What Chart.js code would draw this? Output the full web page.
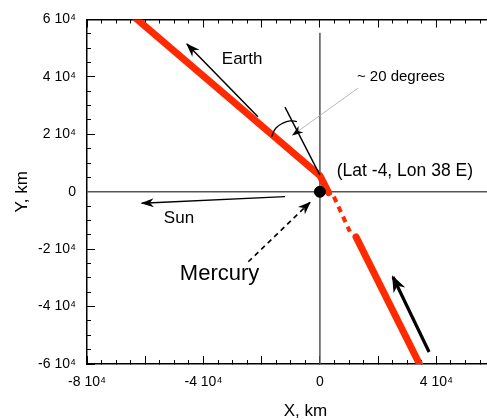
<!DOCTYPE html>
<html>
<head>
<meta charset="utf-8">
<script src="https://cdn.jsdelivr.net/npm/chart.js@4/dist/chart.umd.min.js"></script>
<style>
  html, body { margin: 0; padding: 0; background: #fff; overflow: hidden; }
  #wrap { width: 540px; height: 420px; }
</style>
</head>
<body>
<div id="wrap"><canvas id="c" width="540" height="420"></canvas></div>
<script>
// ---- axis tick data ----
const xLabelValues = [-80000, -40000, 0, 40000];
const xTickLabels = ['-8 10\u2074', '-4 10\u2074', '0', '4 10\u2074'];
const yLabelValues = [-60000, -40000, -20000, 0, 20000, 40000, 60000];
const yTickLabels = ['-6 10\u2074', '-4 10\u2074', '-2 10\u2074', '0', '2 10\u2074', '4 10\u2074', '6 10\u2074'];
const xRange = [-80000, 70000];
const yRange = [-60000, 60000];
const minorStep = 5000;
const majorStep = 20000;

// ---- trajectory (km) ----
const redUpper = [{x: -63200, y: 60400}, {x: 0, y: 5600}, {x: 3000, y: -300}];
const redDashed = [{x: 4800, y: -1700}, {x: 10300, y: -13900}];
const redLower = [{x: 12400, y: -15700}, {x: 34200, y: -60000}];
const mercuryPoint = [{x: 0, y: 0}];

// ---- arrows and construction lines (km) ----
const earthArrow = [{x: -21300, y: 26100}, {x: -45700, y: 51500}];
const sunArrow = [{x: -12000, y: -1700}, {x: -61200, y: -4000}];
const mercuryArrow = [{x: -24600, y: -24400}, {x: -3400, y: -3700}];
const motionArrow = [{x: 37500, y: -55800}, {x: 25100, y: -29700}];
const normalLine = [{x: -12000, y: 29500}, {x: 0, y: 5800}];
const angleArc = [{x: -16600, y: 19200}, {x: -15100, y: 22200}, {x: -12700, y: 23900}, {x: -10300, y: 24700}, {x: -7900, y: 24400}];
const pointerLine = [{x: 13100, y: 36100}, {x: -9400, y: 19700}];
const zeroVertical = [{x: 0, y: 55400}, {x: 0, y: -60000}];
const zeroHorizontal = [{x: -80000, y: 0}, {x: 70000, y: 0}];

// ---- annotations ----
const noteTexts = ['Earth', '~ 20 degrees', '(Lat -4, Lon 38 E)', 'Sun', 'Mercury'];
const noteX = [-33700, 12700, 5800, -53600, -48100];
const noteY = [46200, 40000, 7100, -9400, -28700];
const noteSizes = [17, 15, 17.5, 17, 22];

const FONT = "'Liberation Sans', Arial, Helvetica, sans-serif";
Chart.defaults.font.family = FONT;
Chart.defaults.color = '#000';

function makeTicks(min, max) {
  const arr = [];
  for (let v = min; v <= max + 1e-6; v += minorStep) arr.push({value: v});
  return arr;
}
function isMajor(ctx) {
  if (!ctx || !ctx.tick) return true;
  return Math.abs(ctx.tick.value % majorStep) < 1e-6;
}
function noPad(s) { s.paddingTop = 0; s.paddingBottom = 0; s.paddingLeft = 0; s.paddingRight = 0; }

const arrowPlugin = {
  id: 'arrowHeads',
  afterDatasetsDraw(chart) {
    const ctx = chart.ctx;
    chart.data.datasets.forEach((ds, i) => {
      if (!ds.arrowHead) return;
      const pts = chart.getDatasetMeta(i).data;
      const n = pts.length;
      const a = pts[n - 2], b = pts[n - 1];
      const ang = Math.atan2(b.y - a.y, b.x - a.x);
      const len = ds.arrowHead.len, w = ds.arrowHead.w;
      const ext = (ds.borderWidth || 1) * len / w * 0.5;
      const dx = Math.cos(ang), dy = Math.sin(ang);
      const tx = b.x + dx * ext, ty = b.y + dy * ext;
      const px = -dy, py = dx;
      ctx.save();
      ctx.fillStyle = ds.arrowHead.color || '#000';
      ctx.beginPath();
      ctx.moveTo(tx, ty);
      ctx.lineTo(tx - dx * len + px * w / 2, ty - dy * len + py * w / 2);
      ctx.lineTo(tx - dx * len * 0.7, ty - dy * len * 0.7);
      ctx.lineTo(tx - dx * len - px * w / 2, ty - dy * len - py * w / 2);
      ctx.closePath();
      ctx.fill();
      ctx.restore();
    });
  }
};

const notesPlugin = {
  id: 'notes',
  afterDatasetsDraw(chart) {
    const ctx = chart.ctx;
    const sx = chart.scales.x, sy = chart.scales.y;
    ctx.save();
    ctx.fillStyle = '#000';
    ctx.textAlign = 'left';
    ctx.textBaseline = 'middle';
    noteTexts.forEach((t, i) => {
      ctx.font = noteSizes[i] + 'px ' + FONT;
      ctx.fillText(t, sx.getPixelForValue(noteX[i]), sy.getPixelForValue(noteY[i]));
    });
    ctx.restore();
  }
};

const line = (data, color, width, extra) => Object.assign({
  data, showLine: true, borderColor: color, backgroundColor: color,
  borderWidth: width, pointRadius: 0, pointHoverRadius: 0, tension: 0
}, extra || {});

const datasets = [
  {data: mercuryPoint, pointRadius: 5.5, pointBackgroundColor: '#000', pointBorderColor: '#000', showLine: false},
  line(motionArrow, '#000', 3.2, {arrowHead: {len: 17, w: 13}}),
  line(earthArrow, '#000', 1.5, {arrowHead: {len: 14, w: 10}}),
  line(sunArrow, '#000', 1.3, {arrowHead: {len: 13, w: 9}}),
  line(mercuryArrow, '#000', 1.6, {borderDash: [5, 4], arrowHead: {len: 13, w: 10}}),
  line(pointerLine, '#b0b0b0', 0.9, {arrowHead: {len: 11, w: 8, color: '#000'}}),
  line(normalLine, '#000', 1.4),
  line(angleArc, '#000', 1.3, {tension: 0.4}),
  line(redUpper, '#ff2a00', 7, {borderCapStyle: 'round', borderJoinStyle: 'round'}),
  line(redDashed, '#ff2a00', 4, {borderDash: [6, 5]}),
  line(redLower, '#ff2a00', 7, {borderCapStyle: 'round'}),
  line(zeroVertical, '#555', 1.5),
  line(zeroHorizontal, '#555', 1.5)
];

new Chart(document.getElementById('c'), {
  type: 'scatter',
  data: {datasets},
  plugins: [arrowPlugin, notesPlugin],
  options: {
    responsive: false,
    animation: false,
    layout: {padding: {left: 0, top: 19.5, right: 16.3, bottom: 0}},
    plugins: {legend: {display: false}, tooltip: {enabled: false}},
    scales: {
      x: {
        type: 'linear', position: 'bottom', min: xRange[0], max: xRange[1],
        afterBuildTicks: s => { s.ticks = makeTicks(xRange[0], xRange[1]); },
        afterFit: s => { s.height = 56; noPad(s); },
        ticks: {
          autoSkip: false, maxRotation: 0, padding: 18, color: '#000',
          font: {size: 14},
          callback: v => { const k = xLabelValues.indexOf(v); return k >= 0 ? xTickLabels[k] : ''; }
        },
        grid: {
          drawOnChartArea: false, drawTicks: true, tickLength: -8, tickColor: '#000', tickWidth: 1,
          tickBorderDash: c => isMajor(c) ? [] : [4.5, 50]
        },
        border: {display: true, color: '#000', width: 1.5},
        title: {display: true, text: 'X, km', color: '#000', font: {size: 17, lineHeight: 1}, padding: {top: 0, bottom: 0}}
      },
      x2: {
        type: 'linear', axis: 'x', position: 'top', display: true, min: xRange[0], max: xRange[1],
        afterBuildTicks: s => { s.ticks = makeTicks(xRange[0], xRange[1]); },
        afterFit: s => { s.height = 0; noPad(s); },
        ticks: {display: true, autoSkip: false, maxRotation: 0, padding: 0, color: 'rgba(0,0,0,0)', callback: () => ''},
        grid: {
          display: true, drawOnChartArea: false, drawTicks: true, tickLength: -8, tickColor: '#000', tickWidth: 1,
          tickBorderDash: c => isMajor(c) ? [] : [0, 4, 10, 50]
        },
        border: {display: true, color: '#000', width: 1.5},
        title: {display: false}
      },
      y: {
        type: 'linear', position: 'left', min: yRange[0], max: yRange[1],
        afterBuildTicks: s => { s.ticks = makeTicks(yRange[0], yRange[1]); },
        afterFit: s => { s.width = 87; noPad(s); },
        ticks: {
          autoSkip: false, padding: 19, color: '#000',
          font: {size: 14},
          callback: v => { const k = yLabelValues.indexOf(v); return k >= 0 ? yTickLabels[k] : ''; }
        },
        grid: {
          drawOnChartArea: false, drawTicks: true, tickLength: -8, tickColor: '#000', tickWidth: 1,
          tickBorderDash: c => isMajor(c) ? [] : [0, 4, 10, 50]
        },
        border: {display: true, color: '#000', width: 1.5},
        title: {display: true, text: 'Y, km', color: '#000', font: {size: 17, lineHeight: 1}, padding: {top: 14, bottom: 0}}
      }
    }
  }
});
</script>
</body>
</html>
